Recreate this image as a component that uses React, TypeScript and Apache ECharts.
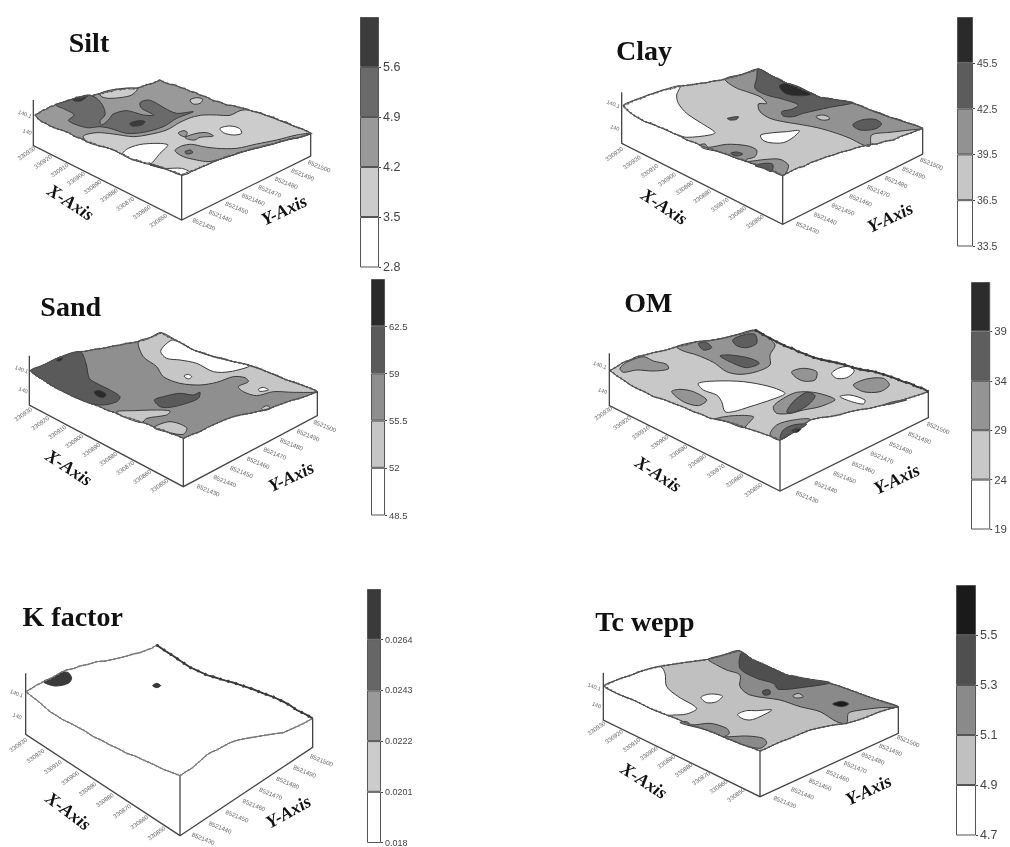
import React, { useEffect, useRef } from "react";
import * as echarts from "echarts";

// Axis tick labels
const xTickLabels = ["330930", "330920", "330910", "330900", "330890", "330880", "330870", "330860", "330850"];
const yTickLabels = ["8521500", "8521490", "8521480", "8521470", "8521460", "8521450", "8521440", "8521430"];
const zTickLabels = ["140.1", "140"];

// Colour-bar thresholds (first to last = bottom of bar to top of bar)
const siltLevels = [2.8, 3.5, 4.2, 4.9, 5.6, 6.3];
const clayLevels = [33.5, 36.5, 39.5, 42.5, 45.5, 48.5];
const sandLevels = [48.5, 52, 55.5, 59, 62.5, 66];
const omLevels = [19, 24, 29, 34, 39, 44];
const kLevels = [0.018, 0.0201, 0.0222, 0.0243, 0.0264, 0.0285];
const tcLevels = [4.7, 4.9, 5.1, 5.3, 5.5, 5.7];

// Grey of each band, lowest to highest
const siltGreys = ["#ffffff", "#cccccc", "#999999", "#6a6a6a", "#3c3c3c"];
const clayGreys = ["#ffffff", "#c6c6c6", "#929292", "#5c5c5c", "#2a2a2a"];
const sandGreys = ["#ffffff", "#c6c6c6", "#8f8f8f", "#5a5a5a", "#2a2a2a"];
const omGreys = ["#ffffff", "#c8c8c8", "#949494", "#5e5e5e", "#2c2c2c"];
const kGreys = ["#ffffff", "#cccccc", "#999999", "#666666", "#3a3a3a"];
const tcGreys = ["#ffffff", "#c0c0c0", "#8a8a8a", "#4f4f4f", "#1a1a1a"];

// Rough outline of each top surface
const siltEdge = [105,345,118,338,128,331,138,328,150,320,160,318,170,312,185,309,200,302,215,299,230,292,246,291,262,286,276,287,290,283,305,281,320,276,335,274,350,268,365,269,380,265,397,267,412,264,425,260,440,254,458,250,480,240,495,248,510,253,525,255,540,262,555,266,570,274,585,277,600,285,620,291,640,302,660,306,680,315,700,317,720,323,740,327,760,335,780,338,800,347,820,352,840,362,860,367,880,378,905,386,932,400,912,408,895,413,878,414,860,420,840,424,820,432,800,435,780,442,760,445,740,452,720,456,700,465,680,469,660,478,640,484,620,495,602,501,585,510,565,516,545,525,528,517,510,512,490,503,470,497,450,490,430,488,412,480,395,478,378,467,360,460,345,451,330,446,312,440,295,437,278,429,260,425,242,415,225,410,208,399,190,392,170,386,150,378,137,370,125,365,114,356,105,345];
const clayEdge = [160,317,176,310,195,300,215,295,235,285,258,279,280,270,305,266,330,258,360,255,390,250,410,248,430,243,450,241,470,236,495,230,520,222,542,216,565,207,588,220,610,230,630,238,650,250,675,258,700,270,725,279,750,292,775,295,800,300,825,303,850,310,875,318,900,330,930,339,960,352,985,358,1010,368,1035,375,1058,385,1040,392,1020,400,995,408,970,420,945,424,920,432,900,433,880,438,860,443,840,450,815,456,790,465,768,471,745,480,722,488,700,500,685,503,670,510,655,518,638,527,615,514,590,505,568,496,545,490,522,480,500,475,472,463,445,455,422,446,400,440,375,428,350,420,330,408,310,400,288,388,265,380,245,370,225,365,208,354,190,345,175,332,160,317];
const sandEdge = [92,287,110,280,130,270,152,260,175,248,202,241,230,232,260,228,290,222,315,219,340,213,360,210,380,205,400,203,420,198,435,195,450,188,466,182,483,173,505,186,530,197,555,210,580,225,610,234,640,245,670,251,700,260,725,265,750,272,775,279,800,290,830,301,860,315,885,322,910,332,930,339,952,350,925,361,900,370,875,376,850,385,825,394,800,405,775,409,750,415,725,419,700,425,675,434,650,445,625,456,600,470,575,479,550,490,530,481,510,475,490,465,470,460,445,448,420,440,395,431,370,425,345,413,320,405,295,393,270,385,245,373,220,365,195,351,170,340,150,329,130,315,110,303,92,287];
const omEdge = [120,287,140,275,160,262,180,255,200,245,225,240,250,233,285,226,320,215,350,209,380,200,405,199,430,195,460,190,490,182,522,175,555,165,578,178,600,190,625,203,650,215,672,222,680,228,700,235,730,247,760,255,790,261,820,268,850,278,880,285,910,289,940,298,970,308,1000,320,1020,325,1040,335,1058,340,1075,350,1052,358,1030,365,1000,374,970,385,935,391,900,400,870,404,840,410,810,419,780,425,750,428,720,435,695,452,670,470,650,481,630,495,610,486,590,480,560,469,530,460,500,448,470,440,445,433,420,430,395,418,370,410,340,396,310,385,280,373,250,365,225,351,200,340,180,329,160,315,140,302,120,287];
const kEdge = [78,335,95,325,110,315,120,311,130,305,150,296,170,285,185,276,200,270,220,266,240,258,265,253,290,245,315,243,340,238,370,231,400,222,420,218,440,210,455,205,470,195,495,212,520,228,545,245,570,262,595,273,620,285,645,292,670,300,700,308,730,318,760,328,790,340,820,351,850,365,870,376,890,390,915,402,938,415,915,428,890,440,870,449,850,458,825,461,800,465,770,470,740,475,715,480,690,488,668,500,650,510,635,516,620,525,598,545,575,565,558,575,540,587,515,577,490,568,460,553,430,540,405,528,380,520,355,506,330,495,305,481,280,470,255,453,230,440,210,429,190,420,170,407,150,395,130,377,110,360,95,349,78,335];
const tcEdge = [102,318,120,309,140,300,162,292,185,285,205,276,225,270,250,264,275,258,308,253,340,248,378,243,415,238,438,232,460,225,484,219,507,212,528,226,550,240,575,250,600,262,625,273,650,285,675,289,700,295,740,302,780,310,810,319,840,330,870,341,900,352,942,366,985,380,958,387,930,395,905,405,880,415,855,423,830,430,805,433,780,437,750,443,720,450,690,462,660,475,635,484,610,495,590,505,570,513,545,503,520,495,495,484,470,475,440,462,410,450,380,440,350,430,320,416,290,405,265,394,240,385,215,372,190,360,165,351,140,340,120,329,102,318];

// Thick dark back-right rim of two panels
const omRim = [555,165,578,178,600,190,625,203,650,215,672,222,680,228,700,235,730,247,760,255,790,261,820,268,850,278,880,285,910,289,940,298,970,308,1000,320,1020,325,1040,335,1058,340,1075,350];
const kRim = [470,195,495,212,520,228,545,245,570,262,595,273,620,285,645,292,670,300,700,308,730,318,760,328,790,340,820,351,850,365,870,376,890,390,915,402,938,415];

// Contour regions: [band, flat x,y outline], drawn in order over the surface
const siltRegions: [number, number[]][] = [
  [1, [250,408,290,398,340,402,400,410,450,403,500,390,540,367,575,352,610,345,650,345,690,346,720,332,745,330,800,347,840,362,880,378,932,400,895,413,860,420,820,432,780,442,740,452,700,465,660,478,620,495,585,510,545,525,510,512,470,497,430,488,395,478,360,460,330,446,295,437,262,426]],
  [2, [525,452,545,438,575,433,610,440,650,445,710,445,770,432,830,420,890,405,932,400,895,413,860,420,820,432,780,442,740,452,700,465,660,478,625,485,590,480,550,470]],
  [3, [555,455,572,450,578,458,560,462]],
  [0, [660,385,690,378,718,385,725,400,700,405,670,398]],
  [2, [535,398,552,392,562,398,555,410,540,405]],
  [2, [555,412,590,400,620,398,640,408,600,412,585,420,565,418]],
  [0, [368,462,385,445,430,432,503,434,480,460,450,492,420,485,395,478]],
  [0, [450,495,490,505,545,505,570,517,545,525,510,512,470,500]],
  [1, [300,280,345,268,412,265,395,285,360,293,325,295,305,290]],
  [1, [570,300,590,293,608,298,600,310,580,312]],
  [3, [168,315,200,303,232,293,265,285,290,295,310,320,315,345,300,362,305,375,325,360,340,342,380,332,430,345,462,345,425,325,420,308,445,300,470,310,495,325,530,340,580,335,530,355,490,380,430,397,380,400,330,385,300,380,260,383,205,362,222,345,195,328]],
  [4, [218,298,240,291,262,288,245,302,225,303]],
  [4, [390,370,415,362,435,365,425,375,395,378]],
];

const clayRegions: [number, number[]][] = [
  [0, [160,317,195,300,235,285,280,270,330,258,320,285,325,310,350,340,395,370,435,397,420,405,350,412,325,405,310,400,265,380,225,365,190,345]],
  [2, [465,237,520,222,565,207,610,230,650,250,700,270,750,292,800,300,850,310,900,330,960,352,1010,368,1058,385,1020,390,960,397,905,405,900,438,880,435,840,415,800,400,750,385,700,375,640,365,600,355,570,335,565,312,590,310,570,290,530,275,495,262]],
  [3, [565,207,610,230,650,250,700,270,750,292,800,300,850,308,780,322,700,340,670,350,640,348,635,335,665,328,685,315,640,298,590,285,555,265,560,235]],
  [4, [628,258,650,250,690,262,722,283,680,287,645,280]],
  [3, [848,375,875,360,915,358,935,372,915,387,870,390]],
  [1, [738,350,755,345,775,350,778,358,755,360]],
  [3, [472,355,505,350,500,358,480,360]],
  [0, [572,405,610,398,650,395,688,392,670,412,640,428,600,428,578,420]],
  [2, [390,435,405,432,415,442,470,433,530,437,560,450,555,470,530,478,525,485,590,478,630,478,655,495,650,515,638,527,590,505,545,490,500,475,445,455,400,445]],
  [3, [482,460,500,456,518,462,500,468]],
  [3, [555,497,585,490,608,493,605,515,580,505]],
];

const sandRegions: [number, number[]][] = [
  [3, [92,287,130,270,175,248,240,230,258,265,268,310,290,325,330,345,360,365,350,380,310,390,270,385,220,365,170,340,130,315]],
  [4, [283,350,300,347,318,358,310,368,290,362]],
  [4, [168,255,188,250,180,258]],
  [1, [415,200,450,188,483,173,530,197,580,225,640,245,700,260,750,272,800,290,860,315,910,332,952,350,880,352,820,350,770,362,730,350,715,335,745,320,735,308,700,305,650,322,600,330,540,325,490,305,470,275,430,245]],
  [0, [482,230,495,210,520,195,580,225,640,245,700,260,750,272,690,290,640,290,590,265,540,255,500,250]],
  [0, [552,303,565,298,575,305,565,312]],
  [0, [775,343,790,337,805,345,780,349]],
  [3, [463,375,490,365,540,355,580,360,600,352,595,370,560,385,510,397,480,395]],
  [1, [350,410,400,407,470,405,510,408,500,420,440,430,425,443,370,425]],
  [1, [462,458,510,440,560,458,550,478,505,472]],
  [1, [785,400,800,392,810,398,790,405]],
];

const omRegions: [number, number[]][] = [
  [2, [150,280,170,262,220,245,250,258,290,268,295,282,250,288,200,285,160,292]],
  [2, [320,215,380,200,430,195,490,182,555,165,590,185,615,210,600,240,600,270,560,290,510,298,470,290,430,262,380,240,340,228]],
  [2, [305,350,330,343,370,350,410,375,385,392,340,380]],
  [2, [665,290,700,280,740,290,735,315,700,318,675,305]],
  [2, [850,330,890,312,940,310,958,330,930,350,880,350]],
  [2, [610,395,640,370,680,352,730,352,780,365,795,375,750,395,700,405,660,415,620,415]],
  [2, [435,432,490,422,550,425,535,445,520,458,470,440]],
  [2, [600,480,620,450,670,435,720,433,670,470,630,495]],
  [2, [940,390,970,380,1010,375,970,385]],
  [3, [488,195,520,180,555,178,560,205,530,218,500,212]],
  [3, [385,205,410,203,425,218,400,225]],
  [3, [450,243,480,240,540,250,568,265,530,278,490,265]],
  [3, [650,410,670,380,710,352,735,362,720,385,690,405,660,415]],
  [3, [630,490,640,465,670,450,710,448,675,470,640,490]],
  [4, [665,468,680,460,693,462,680,472]],
  [0, [385,325,440,318,520,320,600,335,645,355,610,372,540,395,490,410,465,410,455,380,440,360,400,345]],
  [0, [785,295,810,278,845,275,852,290,830,308,800,310]],
  [0, [810,365,840,360,885,375,880,387,845,380]],
];

const kRegions: [number, number[]][] = [
  [4, [130,305,158,293,185,277,205,278,215,295,205,310,165,318]],
  [4, [458,317,470,310,482,317,470,323]],
];

const tcRegions: [number, number[]][] = [
  [0, [102,318,140,300,185,285,225,270,272,260,285,280,290,320,325,350,380,385,350,402,310,405,290,405,240,385,190,360,140,340]],
  [2, [415,238,460,225,507,212,550,240,600,262,650,285,700,295,780,310,840,330,900,352,985,380,930,383,860,392,835,400,830,430,800,425,750,395,690,380,630,360,540,345,510,320,510,285,470,270,440,255]],
  [3, [515,218,550,240,600,262,650,285,700,295,780,308,700,322,625,328,610,310,560,295,510,265]],
  [3, [578,333,598,330,600,342,582,345]],
  [4, [788,372,815,364,836,372,815,380]],
  [1, [668,348,685,340,700,350,680,354]],
  [0, [393,352,420,342,457,348,440,365,410,368]],
  [0, [503,403,530,392,560,392,605,390,570,410,540,420,515,415]],
  [2, [330,428,350,425,365,435,420,430,470,445,478,460,465,470,530,468,580,475,590,490,570,505,520,495,470,475,410,450,350,435]],
];

type Panel = {
  title: string; titleAt: number[];
  crop: number[]; // page x, y, width, height of the panel; outlines are in 3x units of it
  edge: number[]; baseBand: number; edgeColor: string; rim?: number[];
  regions: [number, number[]][]; greys: string[]; levels: number[];
  frame: number[][]; // polylines of the box
  xTicks: number[]; yTicks: number[]; zTicks: number[];
  xName: number[]; yName: number[];
  bar: number[]; barFont: number;
};

const panels: Panel[] = [
  { title: "Silt", titleAt: [252, 113], crop: [0, 0, 420, 275], edge: siltEdge, baseBand: 2, edgeColor: "#555", regions: siltRegions, greys: siltGreys, levels: siltLevels,
    frame: [[100, 300, 100, 437, 545, 660, 932, 468, 932, 400], [545, 525, 545, 660]],
    xTicks: [80, 460, 475, 662], yTicks: [958, 498, 612, 672], zTicks: [75, 342, 82, 395], xName: [212, 607, -33], yName: [852, 630, 25],
    bar: [360, 17, 19, 250], barFont: 12.5 },
  { title: "Clay", titleAt: [207, 135], crop: [570, 0, 440, 275], edge: clayEdge, baseBand: 1, edgeColor: "#555", regions: clayRegions, greys: clayGreys, levels: clayLevels,
    frame: [[155, 277, 155, 430, 638, 673, 1058, 462, 1058, 385], [638, 527, 638, 673]],
    xTicks: [133, 462, 555, 665], yTicks: [1085, 490, 713, 682], zTicks: [130, 312, 135, 383], xName: [283, 620, -33], yName: [960, 652, 25],
    bar: [957, 17, 16, 229], barFont: 10.5 },
  { title: "Sand", titleAt: [197, 80], crop: [0, 275, 420, 250], edge: sandEdge, baseBand: 2, edgeColor: "#555", regions: sandRegions, greys: sandGreys, levels: sandLevels,
    frame: [[88, 242, 88, 390, 550, 635, 952, 422, 952, 350], [550, 490, 550, 635]],
    xTicks: [70, 418, 478, 632], yTicks: [975, 452, 625, 645], zTicks: [65, 283, 70, 345], xName: [207, 578, -33], yName: [873, 605, 25],
    bar: [371, 279, 14, 236], barFont: 9.5 },
  { title: "OM", titleAt: [220, 67], crop: [570, 275, 440, 265], edge: omEdge, baseBand: 1, edgeColor: "#555", rim: omRim, regions: omRegions, greys: omGreys, levels: omLevels,
    frame: [[118, 235, 118, 392, 630, 648, 1075, 428, 1075, 350], [630, 495, 630, 648]],
    xTicks: [100, 415, 550, 645], yTicks: [1105, 458, 712, 665], zTicks: [90, 270, 98, 347], xName: [265, 597, -33], yName: [980, 612, 25],
    bar: [971, 282, 21, 247], barFont: 11.5 },
  { title: "K factor", titleAt: [203, 93], crop: [0, 580, 420, 267], edge: kEdge, baseBand: 0, edgeColor: "#808080", rim: kRim, regions: kRegions, greys: kGreys, levels: kLevels,
    frame: [[77, 280, 77, 463, 540, 767, 938, 502, 938, 415], [540, 587, 540, 767]],
    xTicks: [55, 495, 470, 760], yTicks: [965, 540, 610, 775], zTicks: [50, 340, 52, 408], xName: [205, 693, -37], yName: [865, 695, 29],
    bar: [367, 589, 14, 256], barFont: 9 },
  { title: "Tc wepp", titleAt: [210, 110], crop: [570, 580, 440, 267], edge: tcEdge, baseBand: 1, edgeColor: "#555", regions: tcRegions, greys: tcGreys, levels: tcLevels,
    frame: [[100, 278, 100, 420, 570, 650, 985, 460, 985, 380], [570, 513, 570, 650]],
    xTicks: [80, 445, 498, 645], yTicks: [1015, 482, 645, 665], zTicks: [73, 320, 80, 375], xName: [222, 602, -33], yName: [895, 630, 25],
    bar: [956, 585, 20, 250], barFont: 12.5 },
];

const deg = Math.PI / 180;
const pairs = (f: number[]) => {
  const out: number[][] = [];
  for (let i = 0; i + 1 < f.length; i += 2) out.push([f[i], f[i + 1]]);
  return out;
};
const along = (e: number[], i: number, n: number) => [
  e[0] + ((e[2] - e[0]) * i) / (n - 1),
  e[1] + ((e[3] - e[1]) * i) / (n - 1),
];

function buildOption() {
  const grid: any[] = [], xAxis: any[] = [], yAxis: any[] = [], series: any[] = [], title: any[] = [];
  panels.forEach((p) => {
    const [px, py, pw, ph] = p.crop;
    const gi = grid.length;
    grid.push({ left: px, top: py, width: pw, height: ph });
    xAxis.push({ type: "value", gridIndex: gi, min: 0, max: pw * 3, show: false });
    yAxis.push({ type: "value", gridIndex: gi, min: 0, max: ph * 3, inverse: true, show: false });
    title.push({
      text: p.title,
      left: px + p.titleAt[0] / 3,
      top: py + p.titleAt[1] / 3,
      textAlign: "center",
      textVerticalAlign: "middle",
      textStyle: { fontFamily: "Liberation Serif", fontWeight: "bold", fontSize: 28, color: "#111" },
    });

    // wall and axis lines
    series.push({
      type: "custom", xAxisIndex: gi, yAxisIndex: gi, silent: true, clip: false, z: 2,
      data: p.frame.map((_, i) => [i]),
      renderItem: (_: any, api: any) => {
        const i = api.value(0);
        return {
          type: "polyline",
          shape: { points: pairs(p.frame[i]).map((c) => api.coord(c)) },
          style: { stroke: "#444", lineWidth: 1.3, fill: "none" },
        };
      },
    });

    // surface fill, then contour regions
    const fills: [number, number[], number][] = [
      [p.baseBand, p.edge, 0],
      ...p.regions.map((r) => [r[0], r[1], 0.3] as [number, number[], number]),
    ];
    series.push({
      type: "custom", xAxisIndex: gi, yAxisIndex: gi, silent: true, clip: false, z: 3,
      data: fills.map((_, i) => [i]),
      renderItem: (_: any, api: any) => {
        const [band, flat, smooth] = fills[api.value(0)];
        return {
          type: "polygon",
          shape: { points: pairs(flat).map((c) => api.coord(c)), smooth },
          style: { fill: p.greys[band], stroke: "#3a3a3a", lineWidth: 1 },
        };
      },
    });

    // rough surface rim: a solid line plus a short-dashed one that roughens it
    const rims: [number[], string, number, number[] | null][] = [
      [p.edge, p.edgeColor, 0.9, null],
      [p.edge, p.edgeColor, 1.8, [1.5, 3]],
    ];
    if (p.rim) {
      rims.push([p.rim, "#3a3a3a", 1.8, null]);
      rims.push([p.rim, "#3a3a3a", 3, [2, 6]]);
    }
    series.push({
      type: "custom", xAxisIndex: gi, yAxisIndex: gi, silent: true, clip: false, z: 4,
      data: rims.map((_, i) => [i]),
      renderItem: (_: any, api: any) => {
        const [flat, color, w, dash] = rims[api.value(0)];
        return {
          type: "polyline",
          shape: { points: pairs(flat).map((c) => api.coord(c)) },
          style: { stroke: color, lineWidth: w, fill: "none", lineDash: dash || undefined },
        };
      },
    });

    // tick labels and axis names
    const texts: any[] = [];
    xTickLabels.forEach((t, i) => texts.push([t, ...along(p.xTicks, i, xTickLabels.length), 35, 6, 0]));
    yTickLabels.forEach((t, i) => texts.push([t, ...along(p.yTicks, i, yTickLabels.length), -22, 6.2, 0]));
    zTickLabels.forEach((t, i) => texts.push([t, ...along(p.zTicks, i, zTickLabels.length), -20, 5.5, 0]));
    texts.push(["X-Axis", p.xName[0], p.xName[1], p.xName[2], 18, 1]);
    texts.push(["Y-Axis", p.yName[0], p.yName[1], p.yName[2], 18, 1]);
    series.push({
      type: "custom", xAxisIndex: gi, yAxisIndex: gi, silent: true, clip: false, z: 5,
      data: texts.map((_, i) => [i]),
      renderItem: (_: any, api: any) => {
        const [t, x, y, rot, size, named] = texts[api.value(0)];
        const c = api.coord([x, y]);
        return {
          type: "text", x: c[0], y: c[1], rotation: rot * deg,
          style: {
            text: t, align: "center", verticalAlign: "middle",
            font: named ? `italic bold ${size}px "Liberation Serif"` : `${size}px "Liberation Sans"`,
            fill: named ? "#111" : "#666",
          },
        };
      },
    });

    // colour bar
    const bi = grid.length;
    const [bx, by, bw, bh] = p.bar;
    const L = p.levels;
    grid.push({ left: bx, top: by, width: bw, height: bh });
    xAxis.push({ type: "category", gridIndex: bi, data: ["band"], show: false });
    yAxis.push({
      type: "value", gridIndex: bi, position: "right", min: L[0], max: L[5], splitLine: { show: false },
      axisLine: { show: false },
      axisTick: { show: true, length: 2, inside: false, lineStyle: { color: "#444" }, customValues: L.slice(0, 5) },
      axisLabel: {
        show: true, customValues: L.slice(0, 5), margin: 4, fontSize: p.barFont,
        fontFamily: "Liberation Sans", color: "#444", formatter: (v: number) => String(v),
      },
    });
    p.greys.forEach((g, i) => {
      series.push({
        type: "bar", xAxisIndex: bi, yAxisIndex: bi, stack: "bar" + bi, barWidth: "100%", silent: true, z: 2,
        data: [i === 0 ? L[1] : L[i + 1] - L[i]],
        itemStyle: { color: g, borderColor: "#555", borderWidth: 1 },
      });
    });
  });
  return { animation: false, backgroundColor: "#ffffff", title, grid, xAxis, yAxis, series };
}

export default function App() {
  const ref = useRef<HTMLDivElement>(null);
  useEffect(() => {
    document.body.style.margin = "0";
    const chart = echarts.init(ref.current!, undefined, { renderer: "svg" });
    chart.setOption(buildOption());
    return () => chart.dispose();
  }, []);
  return (
    <div
      ref={ref}
      style={{ position: "absolute", left: 0, top: 0, width: 1010, height: 847, filter: "blur(0.45px)" }}
    />
  );
}
